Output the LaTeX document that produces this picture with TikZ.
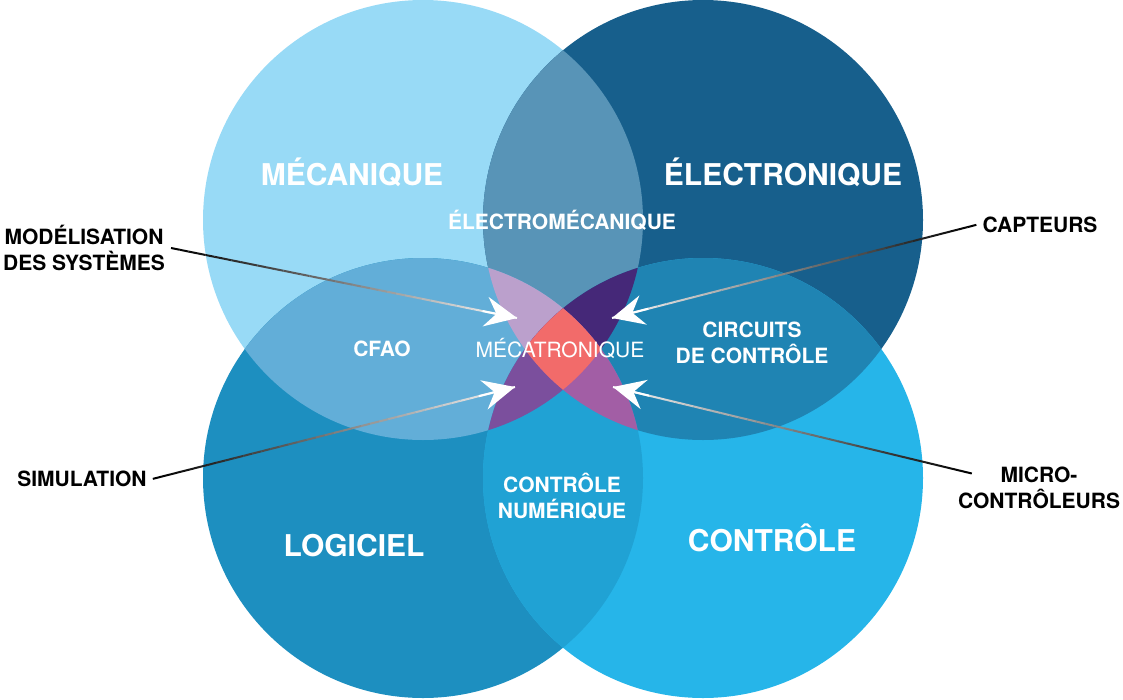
\documentclass[tikz,border=0pt]{standalone}
\usepackage{fontspec}
\setmainfont{TeX Gyre Heros}
\usepackage{tikz}
\usetikzlibrary{arrows.meta,calc}

\definecolor{meca}{HTML}{98DAF6}
\definecolor{elec}{HTML}{175F8C}
\definecolor{logi}{HTML}{1D8FC0}
\definecolor{ctrl}{HTML}{26B5E9}
\definecolor{mecaelec}{HTML}{5894B7}
\definecolor{mecalogi}{HTML}{62AED8}
\definecolor{elecctrl}{HTML}{1F84B3}
\definecolor{logictrl}{HTML}{20A2D4}
\definecolor{mel}{HTML}{BBA0CC}
\definecolor{mec}{HTML}{452878}
\definecolor{mlc}{HTML}{7B4F9D}
\definecolor{elc}{HTML}{A25EA5}
\definecolor{melc}{HTML}{F26B6A}

\def\cercleM{(423, 220) circle[radius=220]}
\def\cercleE{(703, 220) circle[radius=220]}
\def\cercleL{(423, 478) circle[radius=220]}
\def\cercleC{(703, 478) circle[radius=220]}

% line from a label to a tip, black fading to white
\newcommand\fleche[2]{%
    \foreach \k in {0,...,39}{%
        \pgfmathsetmacro\teinte{100-2.5*\k}
        \draw[lien, draw=black!\teinte!white] ($(#1)!\k/40!(#2)$) -- ($(#1)!\k/40+1/40!(#2)$);
    }
    \draw[lien, white, -{Stealth[length=32pt, width=30pt, inset=11pt]}] ($(#1)!0.9!(#2)$) -- (#2);
}

\begin{document}
\begin{tikzpicture}[x=1pt, y=-1pt,
    titre/.style={text=white, font=\fontsize{30}{36}\selectfont\bfseries, anchor=base},
    zone/.style={text=white, font=\fontsize{21}{26}\selectfont\bfseries, align=center},
    etiquette/.style={text=black, font=\fontsize{21}{26}\selectfont\bfseries, align=center, inner sep=6pt},
    lien/.style={line width=2pt}]
    \useasboundingbox (0, 0) rectangle (1123, 699);

    % draw circles
    \fill[meca] \cercleM;
    \fill[elec] \cercleE;
    \fill[logi] \cercleL;
    \fill[ctrl] \cercleC;

    % draw overlaps of two circles
    \begin{scope} \clip \cercleM; \fill[mecaelec] \cercleE; \end{scope}
    \begin{scope} \clip \cercleM; \fill[mecalogi] \cercleL; \end{scope}
    \begin{scope} \clip \cercleE; \fill[elecctrl] \cercleC; \end{scope}
    \begin{scope} \clip \cercleL; \fill[logictrl] \cercleC; \end{scope}

    % draw overlaps of three circles
    \begin{scope} \clip \cercleM; \clip \cercleE; \fill[mel] \cercleL; \end{scope}
    \begin{scope} \clip \cercleM; \clip \cercleE; \fill[mec] \cercleC; \end{scope}
    \begin{scope} \clip \cercleM; \clip \cercleL; \fill[mlc] \cercleC; \end{scope}
    \begin{scope} \clip \cercleE; \clip \cercleL; \fill[elc] \cercleC; \end{scope}

    % draw centre
    \begin{scope} \clip \cercleM; \clip \cercleE; \clip \cercleL; \fill[melc] \cercleC; \end{scope}

    % draw names
    \node[titre] (mecanique) at (352, 185) {MÉCANIQUE};
    \node[titre] (electronique) at (783, 185) {ÉLECTRONIQUE};
    \node[titre] (logiciel) at (354, 556) {LOGICIEL};
    \node[titre] (controle) at (772, 551) {CONTRÔLE};

    \node[zone, anchor=base] (electromeca) at (562, 229.5) {ÉLECTROMÉCANIQUE};
    \node[zone, anchor=base] (cfao) at (382, 356.5) {CFAO};
    \node[zone, anchor=base, font=\fontsize{21}{26}\selectfont] (mecatronique) at (560, 357.5) {MÉCATRONIQUE};
    \node[zone] (circuits) at (752, 342.5) {CIRCUITS\\DE CONTRÔLE};
    \node[zone] (numerique) at (562, 496) {CONTRÔLE\\NUMÉRIQUE};

    % draw labels outside
    \node[etiquette] (modelisation) at (84, 248) {MODÉLISATION\\DES SYSTÈMES};
    \node[etiquette, anchor=base] (simulation) at (82, 486.5) {SIMULATION};
    \node[etiquette, anchor=base] (capteurs) at (1040, 232.5) {CAPTEURS};
    \node[etiquette] (micro) at (1039, 487.5) {MICRO-\\CONTRÔLEURS};

    % draw arrows
    \coordinate (pointeMEL) at (517, 318);
    \coordinate (pointeMEC) at (612, 318);
    \coordinate (pointeMLC) at (515, 387);
    \coordinate (pointeELC) at (613, 387);
    \coordinate (departmicro) at ([shift={(20, -14)}]micro.west);

    \fleche{modelisation.east}{pointeMEL}
    \fleche{simulation.east}{pointeMLC}
    \fleche{capteurs.west}{pointeMEC}
    \fleche{departmicro}{pointeELC}
\end{tikzpicture}
\end{document}
